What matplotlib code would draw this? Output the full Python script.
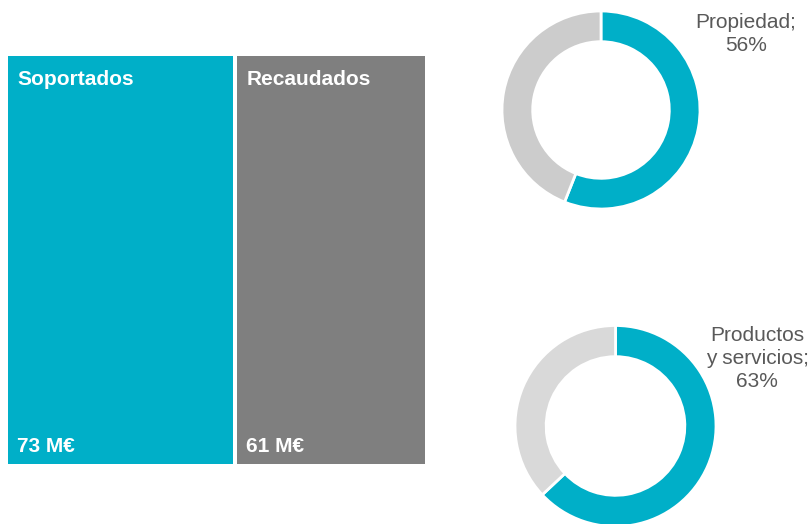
import matplotlib.pyplot as plt

# 数据
bar_labels = ["Soportados", "Recaudados"]
bar_values = [73, 61]
bar_texts = ["73 M€", "61 M€"]
donut_labels = ["Propiedad;\n56%", "Productos\ny servicios;\n63%"]
donut_shares = [56, 63]

blue = "#00AFC8"
bar_colors = [blue, "#7F7F7F"]
donut_rest = ["#CCCCCC", "#D9D9D9"]
text_gray = "#595959"

plt.rcParams["font.family"] = ["Liberation Sans", "DejaVu Sans"]

W, H = 812, 524
fig = plt.figure(figsize=(W / 100, H / 100), dpi=100)


def px_box(x0, y0, x1, y1):
    # 像素框 -> 图表比例坐标
    return [x0 / W, 1 - y1 / H, (x1 - x0) / W, (y1 - y0) / H]


# 左边两个矩形，宽度与数值成比例
ax = fig.add_axes(px_box(8, 56, 425, 464))
gap = 1.3
lefts = [0, bar_values[0] + gap]
ax.bar(lefts, [1, 1], width=bar_values, align="edge", color=bar_colors,
       edgecolor="none")
ax.set_xlim(0, sum(bar_values) + gap)
ax.set_ylim(0, 1)
ax.axis("off")

for left, name, txt in zip(lefts, bar_labels, bar_texts):
    ax.annotate(name, xy=(left, 1), xytext=(6.8, -21), textcoords="offset points",
                color="white", fontsize=15, fontweight="bold", va="baseline")
    ax.annotate(txt, xy=(left, 0), xytext=(6.8, 8.6), textcoords="offset points",
                color="white", fontsize=15, fontweight="bold", va="baseline")

# 右边两个环形图
donut_boxes = [(502, 11, 700, 209), (515, 325.5, 716, 526.5)]
label_pos = [(746, 16), (757, 329)]

for share, rest, box, lab, (lx, ly) in zip(donut_shares, donut_rest,
                                           donut_boxes, donut_labels, label_pos):
    dax = fig.add_axes(px_box(*box))
    wedges, _ = dax.pie([share, 100 - share], colors=[blue, rest], startangle=90,
                        counterclock=False, radius=1,
                        wedgeprops=dict(width=0.31, edgecolor="white", linewidth=2))
    for w in wedges:
        w.set_clip_on(False)
    dax.set_xlim(-1, 1)
    dax.set_ylim(-1, 1)
    dax.set_aspect("equal")
    dax.axis("off")
    fig.text(lx / W, 1 - (ly - 3) / H, lab, ha="center", va="top",
             multialignment="center", fontsize=15, color=text_gray,
             linespacing=1.27)

fig.savefig("out.png", dpi=100)
